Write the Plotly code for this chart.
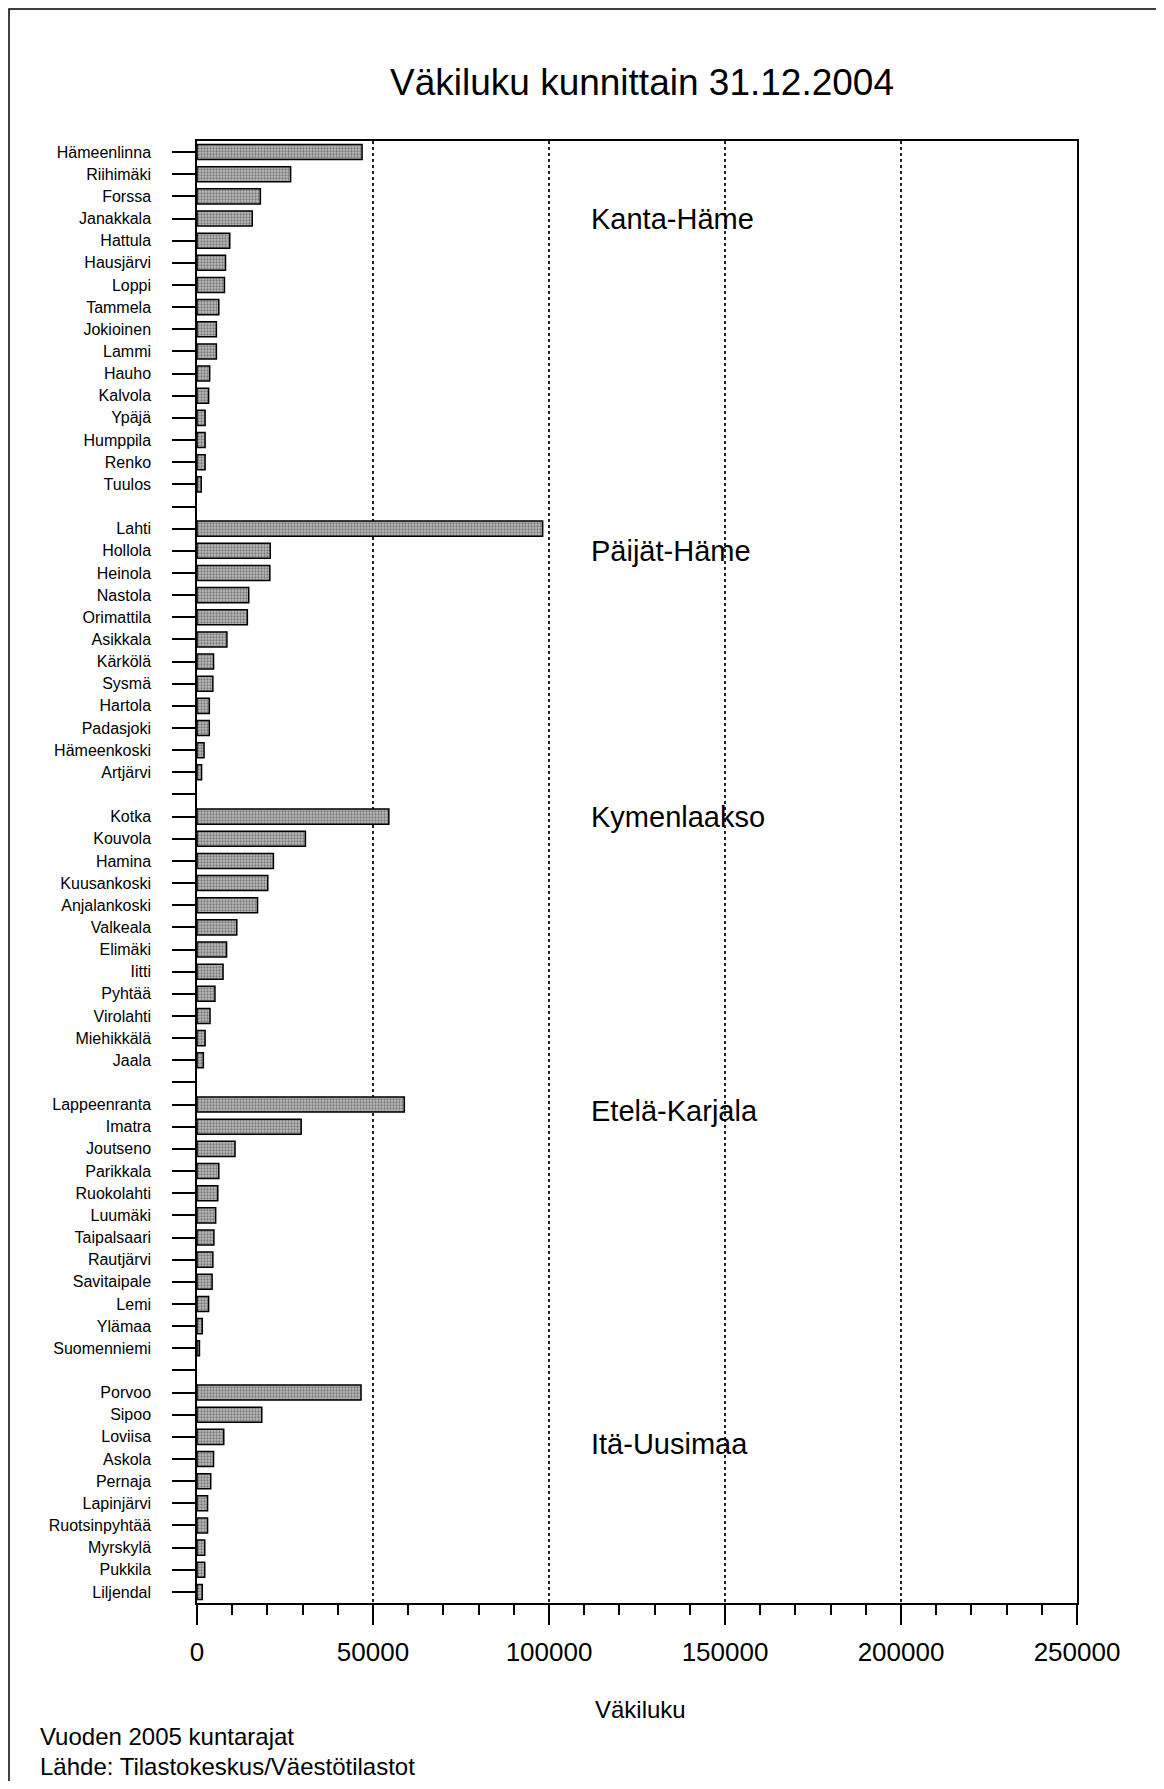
import plotly.graph_objects as go

# ---------------- data ----------------
kanta_hame = ["Hämeenlinna", "Riihimäki", "Forssa", "Janakkala", "Hattula", "Hausjärvi", "Loppi",
              "Tammela", "Jokioinen", "Lammi", "Hauho", "Kalvola", "Ypäjä", "Humppila", "Renko", "Tuulos"]
kanta_hame_pop = [46900, 26600, 18000, 15700, 9300, 8100, 7800, 6200, 5500, 5500, 3600, 3300, 2300, 2300, 2300, 1200]

paijat_hame = ["Lahti", "Hollola", "Heinola", "Nastola", "Orimattila", "Asikkala", "Kärkölä", "Sysmä",
               "Hartola", "Padasjoki", "Hämeenkoski", "Artjärvi"]
paijat_hame_pop = [98200, 20800, 20700, 14700, 14300, 8500, 4700, 4500, 3500, 3500, 2000, 1300]

kymenlaakso = ["Kotka", "Kouvola", "Hamina", "Kuusankoski", "Anjalankoski", "Valkeala", "Elimäki", "Iitti",
               "Pyhtää", "Virolahti", "Miehikkälä", "Jaala"]
kymenlaakso_pop = [54500, 30800, 21700, 20100, 17200, 11300, 8400, 7400, 5100, 3700, 2300, 1800]

etela_karjala = ["Lappeenranta", "Imatra", "Joutseno", "Parikkala", "Ruokolahti", "Luumäki", "Taipalsaari",
                 "Rautjärvi", "Savitaipale", "Lemi", "Ylämaa", "Suomenniemi"]
etela_karjala_pop = [58900, 29600, 10800, 6200, 5900, 5300, 4800, 4500, 4300, 3300, 1500, 700]

ita_uusimaa = ["Porvoo", "Sipoo", "Loviisa", "Askola", "Pernaja", "Lapinjärvi", "Ruotsinpyhtää",
               "Myrskylä", "Pukkila", "Liljendal"]
ita_uusimaa_pop = [46600, 18400, 7600, 4700, 3900, 3000, 3000, 2200, 2200, 1500]

regions = ["Kanta-Häme", "Päijät-Häme", "Kymenlaakso", "Etelä-Karjala", "Itä-Uusimaa"]
x_ticks = [0, 50000, 100000, 150000, 200000, 250000]

groups = [(kanta_hame, kanta_hame_pop), (paijat_hame, paijat_hame_pop), (kymenlaakso, kymenlaakso_pop),
          (etela_karjala, etela_karjala_pop), (ita_uusimaa, ita_uusimaa_pop)]

# build rows with a blank row between groups
labels, values = [], []
region_rows = []
for gi, (names, pops) in enumerate(groups):
    if gi > 0:
        labels.append("")
        values.append(None)
    region_rows.append(len(labels))
    labels.extend(names)
    values.extend(pops)
positions = list(range(len(labels)))
n = len(labels)

FONT = "Liberation Sans, Arial, sans-serif"

fig = go.Figure()
fig.add_trace(go.Bar(
    x=values, y=positions, orientation="h", width=0.68,
    marker=dict(color="#bcbcbc",
                line=dict(color="black", width=1.5),
                pattern=dict(shape=".", fgcolor="#333333", size=3, solidity=0.45)),
    hoverinfo="x+y", showlegend=False,
))

OFF = 8  # browser body margin
PAGE_W, PAGE_H = 1164, 1789
W, H = PAGE_W - 2 * OFF, PAGE_H - 2 * OFF
# plot area in page pixels
PL, PR, PT, PB = 197, 1077, 141, 1603
L, R, T, B = PL - OFF, PR - OFF, PT - OFF, PB - OFF


def px(xpage):
    return (xpage - PL) / (PR - PL)


def py(ypage):
    return (PB - ypage) / (PB - PT)


annotations = [
    dict(text="Väkiluku kunnittain 31.12.2004", x=px(642), y=py(83), xref="paper", yref="paper",
         showarrow=False, font=dict(size=37, color="black", family=FONT), xanchor="center", yanchor="middle"),
    dict(text="Väkiluku", x=px(640), y=py(1709), xref="paper", yref="paper",
         showarrow=False, font=dict(size=24, color="black", family=FONT), xanchor="center", yanchor="middle"),
    dict(text="Vuoden 2005 kuntarajat", x=px(38), y=py(1737), xref="paper", yref="paper",
         showarrow=False, font=dict(size=24, color="black", family=FONT), xanchor="left", yanchor="middle"),
    dict(text="Lähde: Tilastokeskus/Väestötilastot", x=px(38), y=py(1766), xref="paper", yref="paper",
         showarrow=False, font=dict(size=24, color="black", family=FONT), xanchor="left", yanchor="middle"),
]
region_offsets = [3.0, 1.0, 0.0, 0.3, 2.3]
for name, row, off in zip(regions, region_rows, region_offsets):
    annotations.append(dict(text=name, x=111500, y=row + off, xref="x", yref="y", showarrow=False,
                            xanchor="left", yanchor="middle",
                            font=dict(size=29, color="black", family=FONT)))

fig.update_layout(
    width=W, height=H,
    margin=dict(l=L, r=W - R, t=T, b=H - B, pad=0),
    paper_bgcolor="white", plot_bgcolor="white",
    font=dict(family=FONT, color="black"),
    annotations=annotations,
    shapes=[dict(type="rect", xref="paper", yref="paper",
                 x0=px(9), x1=px(1162), y0=py(1795), y1=py(9),
                 line=dict(color="black", width=1.5), layer="below")],
)

fig.update_xaxes(
    range=[0, 250000], tickvals=x_ticks, ticktext=[str(v) for v in x_ticks],
    showline=True, linecolor="black", linewidth=2, mirror=True,
    ticks="outside", ticklen=20, tickwidth=1.5, tickcolor="black",
    minor=dict(dtick=10000, ticks="outside", ticklen=10, tickwidth=1.5, tickcolor="black", showgrid=False),
    showgrid=True, gridcolor="#222222", griddash="dot", gridwidth=1.5,
    zeroline=False,
    tickfont=dict(size=26, color="black", family=FONT),
    ticklabelstandoff=5,
)
fig.update_yaxes(
    range=[n - 0.5, -0.5], tickvals=positions, ticktext=labels,
    showline=True, linecolor="black", linewidth=1.5, mirror=True,
    ticks="outside", ticklen=23, tickwidth=1.5, tickcolor="black",
    showgrid=False, zeroline=False,
    tickfont=dict(size=16, color="black", family=FONT),
    ticklabelstandoff=18,
)

fig.write_html("out.html")
